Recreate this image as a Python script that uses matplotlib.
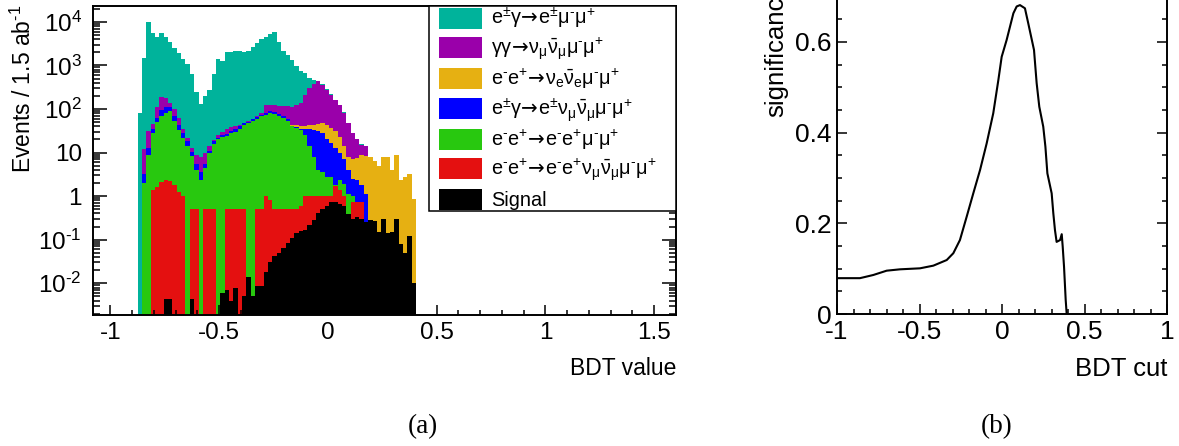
import numpy as np
import matplotlib
matplotlib.use("Agg")
import matplotlib.pyplot as plt
from matplotlib.ticker import MultipleLocator, FixedLocator, LogLocator, NullFormatter, FuncFormatter
from matplotlib.patches import Rectangle, Patch
from matplotlib.legend_handler import HandlerBase

plt.rcParams['font.family'] = ['Liberation Sans', 'DejaVu Sans']
plt.rcParams['mathtext.fontset'] = 'custom'
plt.rcParams['mathtext.rm'] = 'Liberation Sans'
plt.rcParams['mathtext.it'] = 'Liberation Sans'
plt.rcParams['mathtext.bf'] = 'Liberation Sans:bold'
plt.rcParams['mathtext.sf'] = 'DejaVu Sans'
plt.rcParams['axes.unicode_minus'] = False

# ---------------- data: stacked histogram (height of each colour's top) -------------
bin_edges = np.linspace(-0.875, 0.405, 65)   # 64 bins of width 0.02

stack_egamma_mumu = [80, 1500, 10000, 5600, 4500, 5600, 4500, 3500, 2500, 1900,
                     1400, 1100, 630, 250, 130, 200, 280, 630, 1400, 1250,
                     2000, 2000, 2200, 2100, 2000, 2200, 2700, 3300, 4000, 4500,
                     5200, 5900, 3500, 2200, 1700, 1350, 950, 760, 680, 520,
                     460, 440, 370, 290, 225, 165, 126, 85, 48, 28,
                     20, 15.5, 14, 0, 0, 0, 0, 0, 0, 0,
                     0, 0, 0, 0]
stack_gg_nunumumu = [0, 12, 32, 45, 110, 190, 180, 140, 100, 63,
                     35, 22, 12.6, 9, 8, 10, 14, 19, 25, 30,
                     35, 38, 40, 43, 48, 52, 60, 68, 83, 125,
                     125, 125, 120, 120, 117, 112, 125, 140, 215, 300,
                     380, 430, 360, 280, 215, 160, 126, 80, 48, 28,
                     20, 15, 14, 0, 0, 0, 0, 0, 0, 0,
                     0, 0, 0, 0]
stack_ee_nuenuemumu = [0, 0, 0, 0, 0, 0, 0, 0, 0, 0,
                       0, 0, 0, 0, 0, 0, 0, 0, 0, 0,
                       0, 0, 0, 0, 0, 0, 0, 0, 0, 0,
                       0, 0, 0, 0, 0, 44, 42, 40, 40, 42,
                       42, 45, 48, 42, 37, 32, 23, 14, 8, 7,
                       7.4, 9, 8.5, 8, 6.3, 5, 8, 8, 4, 9,
                       2.4, 2.8, 3.2, 0.85]
stack_egamma_nunumumu = [0, 3.2, 12.6, 35, 63, 93, 112, 112, 71, 43,
                         28, 18, 10.5, 5.6, 3.5, 5.6, 11, 18, 22, 26,
                         27, 32, 34, 40, 48, 51, 58, 65, 74, 80,
                         89, 85, 76, 69, 59, 40, 38, 35, 35, 35,
                         33, 32, 28, 20, 17, 13, 10, 7, 4, 2.5,
                         2.3, 1.8, 1.1, 0, 0, 0, 0, 0, 0, 0,
                         0, 0, 0, 0]
stack_ee_eemumu = [0, 2, 9, 28, 50, 68, 83, 89, 52, 33,
                   22, 14, 8.5, 4, 2.4, 4.5, 10, 16, 20, 23,
                   24, 28, 30, 35, 44, 47, 52, 59, 68, 74,
                   83, 79, 68, 63, 52, 40, 37, 33, 26, 14,
                   8, 4, 3.5, 2.8, 2.7, 1.8, 2.4, 1.9, 1.1, 1.0,
                   0, 0, 0, 0, 0, 0, 0, 0, 0, 0,
                   0, 0, 0, 0]
stack_ee_eenunumumu = [0, 0, 0, 1.4, 1.6, 2.1, 2.4, 2.2, 1.8, 1.25,
                       1.0, 0, 0.5, 0.5, 0, 0.5, 0.5, 0.5, 0, 0,
                       0.5, 0.5, 0.5, 0.5, 0.5, 0, 0, 0.5, 0.5, 1.0,
                       0.8, 0.5, 0.5, 0.5, 0.5, 0.5, 0.5, 0.6, 1.0, 1.0,
                       1.0, 1.0, 1.0, 1.0, 1.0, 1.7, 1.4, 1.0, 0, 0.75,
                       0.75, 0.75, 0, 0, 0, 0, 0, 0, 0, 0,
                       0, 0, 0, 0]
stack_signal = [0, 0, 0, 0, 0, 0, 0.0044, 0.0044, 0, 0,
                0, 0, 0.0044, 0, 0, 0, 0, 0, 0, 0.006,
                0.007, 0.004, 0.008, 0, 0.005, 0.014, 0.005, 0.0087, 0.0087, 0.018,
                0.03, 0.042, 0.05, 0.065, 0.085, 0.11, 0.14, 0.16, 0.17, 0.22,
                0.28, 0.4, 0.5, 0.58, 0.72, 0.72, 0.65, 0.58, 0.38, 0.3,
                0.33, 0.3, 0.26, 0.28, 0.27, 0.15, 0.3, 0.14, 0.15, 0.3,
                0.08, 0.05, 0.12, 0.01]

M = r'\text{-}'                     # short (ROOT-style) minus in superscripts
A = r'\!\mathsf{\rightarrow}\!'     # full-width arrow without extra relation spacing
legend_labels = [
    r'$\mathregular{e^{\pm}\gamma%se^{\pm}\mu^{%s}\mu^{+}}$' % (A, M),
    r'$\mathregular{\gamma\gamma%s\nu_{\mu}\bar{\nu}_{\mu}\mu^{%s}\mu^{+}}$' % (A, M),
    r'$\mathregular{e^{%s}e^{+}%s\nu_{e}\bar{\nu}_{e}\mu^{%s}\mu^{+}}$' % (M, A, M),
    r'$\mathregular{e^{\pm}\gamma%se^{\pm}\nu_{\mu}\bar{\nu}_{\mu}\mu^{%s}\mu^{+}}$' % (A, M),
    r'$\mathregular{e^{%s}e^{+}%se^{%s}e^{+}\mu^{%s}\mu^{+}}$' % (M, A, M, M),
    r'$\mathregular{e^{%s}e^{+}%se^{%s}e^{+}\nu_{\mu}\bar{\nu}_{\mu}\mu^{%s}\mu^{+}}$' % (M, A, M, M),
    'Signal',
]
colors = ['#00b39b', '#9a00aa', '#e6b012', '#0000ff', '#28c80f', '#e41010', '#000000']

# ---------------- data: significance vs BDT cut -------------
bdt_cut = [-1.0, -0.861, -0.78, -0.699, -0.618, -0.497, -0.416, -0.335, -0.295, -0.255,
           -0.214, -0.174, -0.133, -0.093, -0.053, -0.022, -0.002, 0.028, 0.069, 0.089,
           0.109, 0.139, 0.159, 0.194, 0.21, 0.226, 0.25, 0.263, 0.275, 0.301,
           0.311, 0.321, 0.331, 0.352, 0.362, 0.368, 0.376, 0.386, 0.392]
significance = [0.079, 0.079, 0.086, 0.0955, 0.0985, 0.1007, 0.1066, 0.119, 0.134, 0.163,
                0.2146, 0.266, 0.3175, 0.376, 0.4425, 0.516, 0.567, 0.604, 0.663, 0.678,
                0.681, 0.674, 0.641, 0.582, 0.509, 0.457, 0.413, 0.369, 0.31, 0.266,
                0.222, 0.185, 0.159, 0.163, 0.176, 0.148, 0.104, 0.031, 0.0]

# ---------------- figure -------------
W, H = 1179, 446
fig = plt.figure(figsize=(W / 100, H / 100), dpi=100)


def px_axes(x0, x1, ytop, ybot):
    return fig.add_axes([x0 / W, 1 - ybot / H, (x1 - x0) / W, (ybot - ytop) / H])


# ---- panel (a) ----
ax1 = px_axes(93, 676, 6, 315)
floor = 1e-4
layers = [stack_egamma_mumu, stack_gg_nunumumu, stack_ee_nuenuemumu,
          stack_egamma_nunumumu, stack_ee_eemumu, stack_ee_eenunumumu, stack_signal]
for vals, col in zip(layers, colors):
    v = np.asarray(vals, dtype=float)
    v = np.where(v > 0, v, floor)
    ax1.stairs(v, bin_edges, baseline=floor, fill=True, color=col, lw=0)

ax1.set_yscale('log')
ax1.set_xlim(-1.08, 1.60)
ax1.set_ylim(0.00187, 23200)
ax1.xaxis.set_major_locator(MultipleLocator(0.5))
ax1.xaxis.set_minor_locator(MultipleLocator(0.1))
ax1.xaxis.set_major_formatter(FuncFormatter(lambda x, p: '%g' % round(x, 3)))
yt = [1e-2, 1e-1, 1, 10, 1e2, 1e3, 1e4]
ytl = [r'$\mathregular{10^{%s2}}$' % M, r'$\mathregular{10^{%s1}}$' % M, '1', '10',
       r'$\mathregular{10^{2}}$', r'$\mathregular{10^{3}}$', r'$\mathregular{10^{4}}$']
ax1.yaxis.set_major_locator(FixedLocator(yt))
ax1.set_yticklabels(ytl)
ax1.yaxis.set_minor_locator(LogLocator(base=10, subs=np.arange(2, 10), numticks=20))
ax1.yaxis.set_minor_formatter(NullFormatter())
ax1.tick_params(axis='x', which='major', direction='in', length=7.5, width=1.1, labelsize=17.5, pad=5.3, top=False)
ax1.tick_params(axis='x', which='minor', direction='in', length=3.7, width=1.1, top=False)
ax1.tick_params(axis='y', which='major', direction='in', length=10, width=1.1, labelsize=17.5, pad=8, right=True)
ax1.tick_params(axis='y', which='minor', direction='in', length=5, width=1.1, right=True)
for s in ax1.spines.values():
    s.set_linewidth(1.4)

ax1.set_xlabel('BDT value', fontsize=16.5, loc='right')
ax1.xaxis.set_label_coords(1.0, -0.135)
ax1.set_ylabel(r'Events / 1.5 ab$^{\mathregular{%s1}}$' % M, fontsize=16.5, loc='bottom')
ax1.yaxis.set_label_coords(-0.098, 0.461)


class SwatchHandler(HandlerBase):
    def create_artists(self, legend, orig_handle, xdescent, ydescent, width, height, fontsize, trans):
        h = 21 * 72 / 100
        off = 10 * 72 / 100
        p = Rectangle((-xdescent + off, -ydescent + (height - h) / 2), width - off, h,
                      facecolor=orig_handle.get_facecolor(), edgecolor='none', transform=trans)
        return [p]


handles = [Patch(facecolor=c) for c in colors]
leg = ax1.legend(handles, legend_labels, loc='upper left',
                 bbox_to_anchor=(0.5763, 0.0, 0.4237, 1.0), mode='expand',
                 borderaxespad=0, borderpad=0.0, labelspacing=0.23,
                 handlelength=2.67, handleheight=1.4, handletextpad=0.45,
                 fontsize=14.3, frameon=True, fancybox=False, framealpha=1,
                 edgecolor='black', handler_map={Patch: SwatchHandler()})
leg.get_frame().set_linewidth(1.1)

# ---- panel (b) ----
ax2 = px_axes(837, 1167, 314 - 0.75 * 453.6, 314)
ax2.plot(bdt_cut, significance, color='black', lw=1.5)
ax2.set_xlim(-1, 1)
ax2.set_ylim(0, 0.75)
ax2.xaxis.set_major_locator(MultipleLocator(0.5))
ax2.xaxis.set_minor_locator(MultipleLocator(0.1))
ax2.yaxis.set_major_locator(MultipleLocator(0.2))
ax2.yaxis.set_minor_locator(MultipleLocator(0.05))
fmt = FuncFormatter(lambda x, p: '%g' % round(x, 3))
ax2.xaxis.set_major_formatter(fmt)
ax2.yaxis.set_major_formatter(fmt)
ax2.tick_params(which='major', direction='in', length=7, width=1.1, labelsize=19, right=True, top=True)
ax2.tick_params(which='minor', direction='in', length=3.5, width=1.1, right=True, top=True)
ax2.tick_params(axis='x', which='major', pad=4.3)
ax2.tick_params(axis='y', which='major', pad=3.8)
for s in ax2.spines.values():
    s.set_linewidth(1.4)
ax2.set_xlabel('BDT cut', fontsize=18.5, loc='right')
ax2.xaxis.set_label_coords(1.0, -0.126)
ax2.set_ylabel('significance', fontsize=18.5, loc='bottom')
ax2.yaxis.set_label_coords(-0.148, 0.579)

# captions
fig.text(423 / W, 1 - 427 / H, '(a)', family='Liberation Serif', fontsize=19.5, ha='center', va='center')
fig.text(997 / W, 1 - 427 / H, '(b)', family='Liberation Serif', fontsize=19.5, ha='center', va='center')

fig.savefig('out.png', dpi=100)
